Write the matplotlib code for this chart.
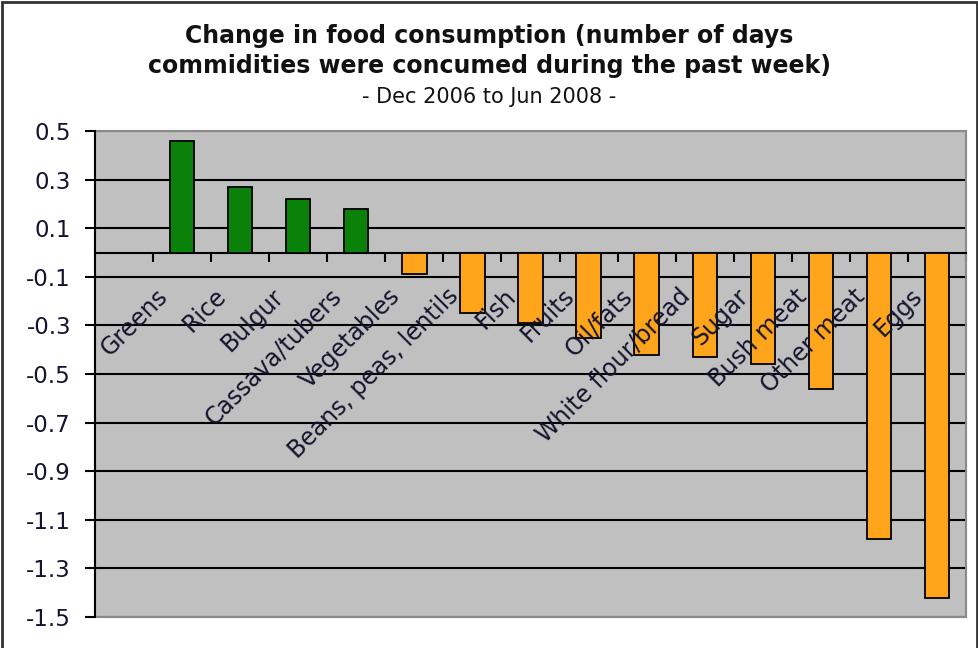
import numpy as np
import matplotlib.pyplot as plt
from matplotlib.patches import Rectangle

plt.rcParams['font.family'] = ['DejaVu Sans']
plt.rcParams['axes.unicode_minus'] = False

# data
foods = ['Greens', 'Rice', 'Bulgur', 'Cassava/tubers', 'Vegetables',
         'Beans, peas, lentils', 'Fish', 'Fruits', 'Oil/fats',
         'White flour/bread', 'Sugar', 'Bush meat', 'Other meat', 'Eggs']
change = [0.46, 0.27, 0.22, 0.18, -0.09, -0.25, -0.29, -0.35, -0.42,
          -0.43, -0.46, -0.56, -1.18, -1.42]
yticks = [0.5, 0.3, 0.1, -0.1, -0.3, -0.5, -0.7, -0.9, -1.1, -1.3, -1.5]

green = '#0A820A'
orange = '#FFA51C'
colors = [green if v > 0 else orange for v in change]
txt = '#14142e'

W, H = 979, 648
fig = plt.figure(figsize=(W / 100, H / 100), dpi=100)
ax = fig.add_axes([95 / W, 1 - 617 / H, (966 - 95) / W, (617 - 131) / H])
ax.set_facecolor('#C0C0C0')

# first category slot is empty, like in the original sheet
x = np.arange(1, len(foods) + 1)
ax.bar(x, change, width=0.42, color=colors, edgecolor='black',
       linewidth=1.3, zorder=3)

ax.set_xlim(-0.5, len(foods) + 0.5)
ax.set_ylim(-1.5, 0.5)
ax.set_yticks(yticks)
ax.set_yticklabels([f'{t:.1f}' for t in yticks])
ax.yaxis.grid(True, color='black', linewidth=1.5)
ax.set_axisbelow(True)

# category axis crosses at zero, tick marks between categories
ax.spines['bottom'].set_position(('data', 0))
ax.spines['bottom'].set_linewidth(1.5)
ax.set_xticks(np.arange(0.5, len(foods) + 0.6, 1))
ax.set_xticklabels([])
ax.tick_params(axis='x', direction='out', length=6.3, width=1.5, color='black')
ax.tick_params(axis='y', direction='out', length=7.2, width=1.5,
               labelsize=16.5, labelcolor=txt, pad=10)
for s in ['top', 'right']:
    ax.spines[s].set_visible(False)
ax.spines['left'].set_linewidth(1.5)
ax.add_patch(Rectangle((0, 0), 1, 1, transform=ax.transAxes, fill=False,
                       edgecolor='#8a8a8a', linewidth=1.5, zorder=2.5,
                       clip_on=False))

# category names sit under the zero line, written over the bars
for xi, name in zip(x, foods):
    ax.annotate(name, xy=(xi, 0), xytext=(-18, -40), textcoords='offset pixels',
                rotation=45, rotation_mode='anchor', ha='right', va='center',
                fontsize=17, color=txt, zorder=4)

fig.text(0.5, 1 - 36 / H, 'Change in food consumption (number of days',
         ha='center', va='center', fontsize=17, fontweight='bold', color='#111')
fig.text(0.5, 1 - 66 / H, 'commidities were concumed during the past week)',
         ha='center', va='center', fontsize=17, fontweight='bold', color='#111')
fig.text(0.5, 1 - 97 / H, '- Dec 2006 to Jun 2008 -',
         ha='center', va='center', fontsize=15, color='#111')

fig.patches.append(Rectangle((2 / W, -0.02), (W - 4) / W, 1.02 - 2 / H,
                             transform=fig.transFigure, fill=False,
                             edgecolor='#333333', linewidth=2))

fig.savefig('out.png', dpi=100)
